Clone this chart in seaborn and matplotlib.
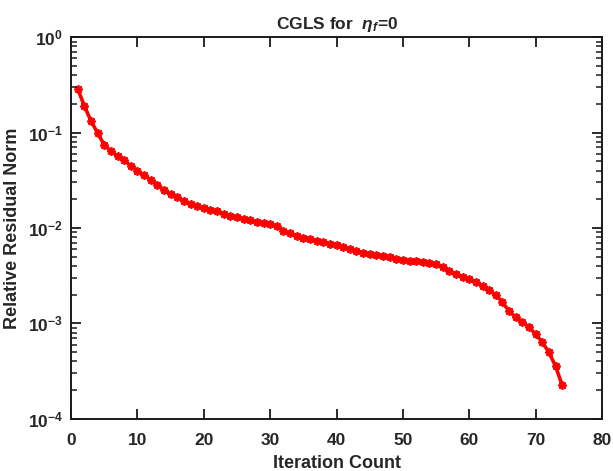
import numpy as np
import pandas as pd
import matplotlib
matplotlib.use("Agg")
import matplotlib.pyplot as plt
import seaborn as sns
from matplotlib.ticker import FixedLocator, NullFormatter

# CGLS convergence history: relative residual norm per iteration
iterations = list(range(1, 75))
residual_norm = [
    0.287, 0.190, 0.132, 0.0990, 0.0741, 0.0641, 0.0568, 0.0516, 0.0446, 0.0396,
    0.0359, 0.0318, 0.0282, 0.0250, 0.0227, 0.0211, 0.0194, 0.0178, 0.0168, 0.0160,
    0.0154, 0.0149, 0.0140, 0.0133, 0.0129, 0.0124, 0.0120, 0.0115, 0.0113, 0.0110,
    0.0104, 0.00935, 0.00875, 0.00822, 0.00793, 0.00765, 0.00738, 0.00711, 0.00686, 0.00662,
    0.00630, 0.00601, 0.00572, 0.00552, 0.00532, 0.00519, 0.00507, 0.00495, 0.00477, 0.00466,
    0.00455, 0.00449, 0.00444, 0.00433, 0.00418, 0.00389, 0.00353, 0.00328, 0.00305, 0.00291,
    0.00271, 0.00246, 0.00223, 0.00198, 0.00167, 0.00134, 0.00116, 0.00103, 0.000912, 0.000770,
    0.000635, 0.000498, 0.000356, 0.000225,
]

x_ticks = [0, 10, 20, 30, 40, 50, 60, 70, 80]
y_ticks = [1e-4, 1e-3, 1e-2, 1e-1, 1e0]
y_tick_labels = [r"$\mathbf{10^{-4}}$", r"$\mathbf{10^{-3}}$", r"$\mathbf{10^{-2}}$",
                 r"$\mathbf{10^{-1}}$", r"$\mathbf{10^{0}}$"]

df = pd.DataFrame({"Iteration": iterations, "Residual": residual_norm})

sns.set_theme(style="ticks")
plt.rcParams.update({
    "font.family": ["Liberation Sans", "DejaVu Sans"],
    "font.weight": "bold",
    "mathtext.fontset": "custom",
    "mathtext.rm": "Liberation Sans:bold",
    "mathtext.bf": "Liberation Sans:bold",
    "mathtext.it": "Liberation Sans:italic",
    "axes.axisbelow": False,
    "axes.edgecolor": "#1a1a1a", "axes.linewidth": 1.4,
})

fig = plt.figure(figsize=(6.13, 4.71), dpi=100)
ax = fig.add_axes([0.116, 0.111, 0.866, 0.810])

# solid red line with asterisk markers at every iteration
sns.lineplot(data=df, x="Iteration", y="Residual", ax=ax, color="#ff0000",
             linewidth=2.6, marker=(8, 2, 0), markersize=6, markeredgewidth=1.3,
             markeredgecolor="#ff0000", markerfacecolor="#ff0000")

ax.set_yscale("log")
ax.set_xlim(0, 80)
ax.set_ylim(1e-4, 1e0)
ax.set_xticks(x_ticks)
ax.set_xticklabels([str(t) for t in x_ticks], fontsize=12.5, fontweight="bold")
ax.set_yticks(y_ticks)
ax.set_yticklabels(y_tick_labels, fontsize=12.5)

# minor ticks at 2..9 times each decade
decades = [1e-4, 1e-3, 1e-2, 1e-1]
minor_positions = [d * k for d in decades for k in range(2, 10)]
ax.yaxis.set_minor_locator(FixedLocator(minor_positions))
ax.yaxis.set_minor_formatter(NullFormatter())
ax.xaxis.set_minor_locator(FixedLocator([]))

for spine in ax.spines.values():
    spine.set_visible(True)

# inward ticks on all four sides of the box
ax.tick_params(axis="both", which="both", direction="in",
               left=True, bottom=True, top=True, right=True, color="#1a1a1a")
ax.tick_params(axis="x", which="major", length=7, width=1.3, pad=10)
ax.tick_params(axis="y", which="major", length=7, width=1.3, pad=6)
ax.tick_params(axis="y", which="minor", length=4, width=1.1)

ax.set_xlabel("Iteration Count", fontsize=13, fontweight="bold", labelpad=5)
ax.set_ylabel("Relative Residual Norm", fontsize=13, fontweight="bold", labelpad=5)
ax.set_title(r"CGLS for  $\it{\eta_f}$=0", fontsize=12.5, fontweight="bold", pad=6)

fig.canvas.draw()
for axis_obj in (ax.xaxis, ax.yaxis):
    for tick in axis_obj.get_major_ticks() + axis_obj.get_minor_ticks():
        for line in (tick.tick1line, tick.tick2line):
            line.set_visible(True)
            line.set_color("#1a1a1a")
            line.set_zorder(5)

fig.savefig("out.png", dpi=100, facecolor="white")
